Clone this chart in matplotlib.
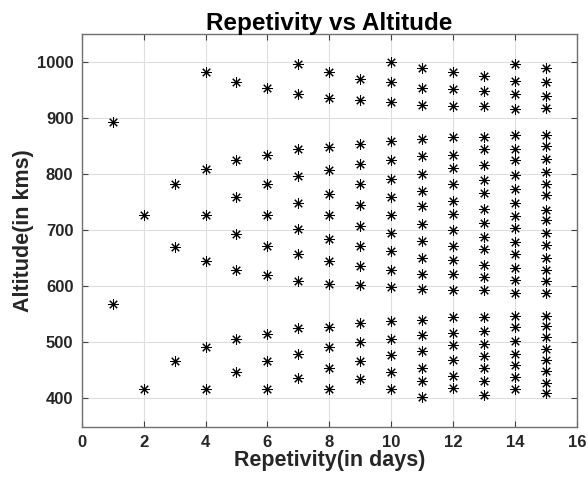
import matplotlib
matplotlib.use("Agg")
import matplotlib.pyplot as plt

# altitude (km) of each solution, one list per repetivity (days)
repetivity = [1, 2, 3, 4, 5, 6, 7, 8, 9, 10, 11, 12, 13, 14, 15]
alt_1 = [894, 568]
alt_2 = [727, 417]
alt_3 = [782, 671, 467]
alt_4 = [982, 809, 727, 645, 492, 417]
alt_5 = [964, 825, 760, 694, 630, 507, 448]
alt_6 = [954, 835, 782, 727, 672, 620, 515, 467, 417]
alt_7 = [997, 943, 846, 797, 749, 702, 657, 610, 525, 480, 437]
alt_8 = [982, 936, 849, 808, 765, 727, 684, 646, 604, 528, 492, 454, 417]
alt_9 = [971, 932, 855, 818, 782, 746, 707, 672, 637, 602, 534, 500, 467, 435]
alt_10 = [1001, 964, 930, 860, 825, 792, 760, 727, 696, 663, 630, 599,
          538, 507, 477, 448, 417]
alt_11 = [989, 955, 924, 864, 833, 801, 771, 743, 711, 681, 651, 622, 596,
          540, 514, 485, 455, 431, 402]
alt_12 = [983, 952, 922, 867, 834, 811, 783, 752, 730, 701, 672, 647, 622, 593,
          546, 516, 495, 468, 441, 418]
alt_13 = [976, 948, 922, 867, 845, 816, 790, 766, 738, 714, 689, 667, 639, 616,
          593, 546, 521, 497, 475, 454, 431, 406]
alt_14 = [997, 967, 943, 917, 870, 846, 826, 798, 774, 749, 726, 704, 680, 657,
          633, 611, 589, 548, 527, 503, 480, 460, 439, 417]
alt_15 = [989, 964, 939, 918, 870, 851, 828, 804, 783, 763, 737, 719, 695, 674,
          650, 630, 610, 589, 548, 530, 510, 488, 468, 449, 428, 409]
altitudes = [alt_1, alt_2, alt_3, alt_4, alt_5, alt_6, alt_7, alt_8, alt_9,
             alt_10, alt_11, alt_12, alt_13, alt_14, alt_15]

plt.rcParams['font.family'] = ['Liberation Sans', 'DejaVu Sans']
plt.rcParams['font.weight'] = 'bold'

fig = plt.figure(figsize=(5.88, 4.79), dpi=100)
ax = fig.add_axes([0.139, 0.1096, 0.842, 0.8188])

for r, alts in zip(repetivity, altitudes):
    ax.plot([r] * len(alts), alts, linestyle='none', marker=(8, 2, 0),
            markersize=7.5, markeredgewidth=0.75, color='black')

ax.set_xlim(0, 16)
ax.set_ylim(350, 1050)
ax.set_xticks(range(0, 17, 2))
ax.set_yticks(range(400, 1001, 100))
ax.grid(True, color='#dedede', linewidth=0.8)
ax.set_axisbelow(True)
ax.tick_params(direction='in', top=True, right=True, labelsize=12,
               color='#404040', length=4, pad=6)
for lab in ax.get_xticklabels() + ax.get_yticklabels():
    lab.set_fontweight('bold')
    lab.set_color('#262626')
for sp in ax.spines.values():
    sp.set_color('#707070')
    sp.set_linewidth(1.0)

ax.set_xlabel("Repetivity(in days)", fontsize=15.5, fontweight='bold',
              color='#262626', labelpad=0)
ax.set_ylabel("Altitude(in kms)", fontsize=15.5, fontweight='bold',
              color='#262626', labelpad=2)
ax.set_title("Repetivity vs Altitude", fontsize=17.5, fontweight='bold', pad=3)

fig.savefig("out.png", dpi=100)
